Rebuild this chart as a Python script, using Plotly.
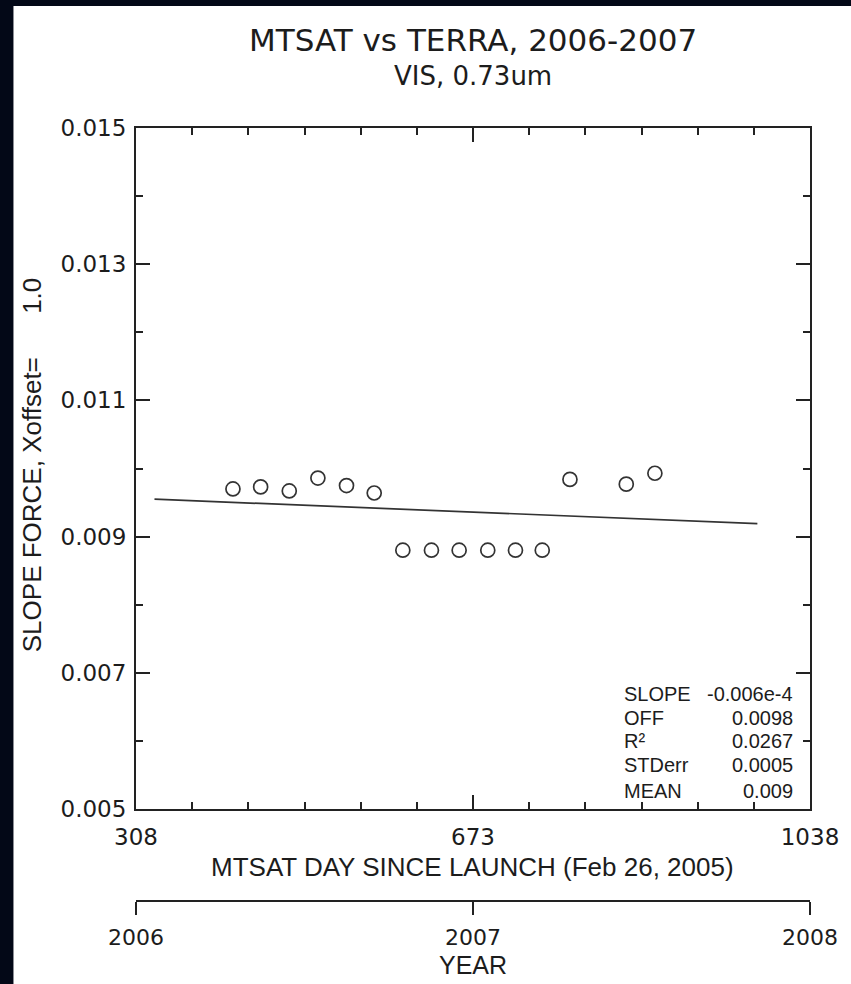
import plotly.graph_objects as go

# ---------------- data ----------------
days = [413, 443, 474, 505, 536, 566, 597, 628, 658, 689, 719, 748, 778, 839, 870]
slope_force = [0.00970, 0.00973, 0.00967, 0.00986, 0.00975, 0.00964,
               0.00880, 0.00880, 0.00880, 0.00880, 0.00880, 0.00880,
               0.00984, 0.00977, 0.00993]
fit_days = [328, 981]
fit_values = [0.00955, 0.00919]

x_ticks = [308, 673, 1038]
x_tick_labels = ["308", "673", "1038"]
y_ticks = [0.005, 0.007, 0.009, 0.011, 0.013, 0.015]
y_tick_labels = ["0.005", "0.007", "0.009", "0.011", "0.013", "0.015"]
year_ticks = [2006, 2007, 2008]
year_tick_labels = ["2006", "2007", "2008"]

stat_names = ["SLOPE", "OFF", "R\u00b2", "STDerr", "MEAN"]
stat_values = ["-0.006e-4", "0.0098", "0.0267", "0.0005", "0.009"]

title_text = "MTSAT vs TERRA, 2006-2007"
subtitle_text = "VIS, 0.73um"
x_title = "MTSAT DAY SINCE LAUNCH (Feb 26, 2005)"
y_title = "SLOPE FORCE, Xoffset=" + "\u00a0" * 6 + "1.0"
year_title = "YEAR"

# ---------------- layout geometry (pixels) ----------------
W, H = 851, 984
L, R, T, B = 136, 33, 128, 83
PW = W - L - R
PH = H - T - B
AX_Y = 809  # pixel row of main x axis


def px(x):
    return (x - L) / PW


def py(y):
    return (H - B - y) / PH


INK = "#1c1c1c"
SANS = "Liberation Sans, Arial, sans-serif"
WIDE = "DejaVu Sans, sans-serif"

fig = go.Figure()

fig.add_trace(go.Scatter(
    x=fit_days, y=fit_values, mode="lines",
    line=dict(color="#333333", width=1.7),
    showlegend=False, hoverinfo="skip"))

fig.add_trace(go.Scatter(
    x=days, y=slope_force, mode="markers",
    marker=dict(symbol="circle-open", size=14, color="#333333",
                line=dict(width=1.7)),
    showlegend=False))

# invisible trace to carry the year axis
fig.add_trace(go.Scatter(
    x=[year_ticks[0], year_ticks[-1]], y=[None, None], xaxis="x2", yaxis="y",
    mode="markers", showlegend=False, hoverinfo="skip"))

annotations = [
    dict(text=title_text, x=0.5, y=py(40), font=dict(family=WIDE, size=31, color=INK)),
    dict(text=subtitle_text, x=0.5, y=py(76), font=dict(family=WIDE, size=26, color=INK)),
    dict(text=x_title, x=px(476), y=py(867), font=dict(family=SANS, size=26, color=INK)),
    dict(text=y_title, x=px(31), y=py(465), textangle=-90,
         font=dict(family=SANS, size=26, color=INK)),
    dict(text=year_title, x=0.5, y=py(965), font=dict(family=SANS, size=25, color=INK)),
]
row_y = [694, 718, 741, 765, 791]
for name, val, ry in zip(stat_names, stat_values, row_y):
    annotations.append(dict(text=name, x=px(628), y=py(ry), xanchor="left",
                            font=dict(family=SANS, size=20, color=INK)))
    annotations.append(dict(text=val, x=px(803), y=py(ry), xanchor="right",
                            font=dict(family=SANS, size=20, color=INK)))
for a in annotations:
    a.setdefault("xanchor", "center")
    a.update(xref="paper", yref="paper", yanchor="middle", showarrow=False)

axis_common = dict(showgrid=False, zeroline=False, showline=True,
                   linecolor="#222222", linewidth=2, tickcolor="#222222",
                   tickwidth=1.5)

fig.update_layout(
    width=W, height=H,
    margin=dict(l=L, r=R, t=T, b=B, pad=0),
    paper_bgcolor="#030817",
    plot_bgcolor="white",
    showlegend=False,
    xaxis=dict(
        range=[308, 1038], tickmode="array", tickvals=x_ticks, ticktext=x_tick_labels,
        ticks="inside", ticklen=14, mirror="ticks",
        tickfont=dict(family=WIDE, size=23, color=INK), ticklabelstandoff=6,
        minor=dict(tickmode="linear", tick0=308, dtick=730 / 12, ticks="inside",
                   ticklen=7, tickwidth=1.5, tickcolor="#222222", showgrid=False),
        **axis_common),
    yaxis=dict(
        range=[0.005, 0.015], domain=[py(AX_Y), 1], tickmode="array",
        tickvals=y_ticks, ticktext=y_tick_labels,
        ticks="inside", ticklen=14, mirror="ticks",
        tickfont=dict(family=WIDE, size=23, color=INK), ticklabelstandoff=3,
        minor=dict(tickmode="linear", tick0=0.005, dtick=0.001, ticks="inside",
                   ticklen=7, tickwidth=1.5, tickcolor="#222222", showgrid=False),
        **axis_common),
    xaxis2=dict(
        overlaying="x", anchor="free", position=0, side="bottom",
        range=[2006, 2008], tickmode="array", tickvals=year_ticks,
        ticktext=year_tick_labels, ticks="outside", ticklen=13,
        tickfont=dict(family=WIDE, size=22, color=INK), ticklabelstandoff=4,
        **axis_common),
    annotations=annotations,
    shapes=[dict(type="rect", xref="paper", yref="paper",
                 x0=px(12), x1=px(W + 20), y0=py(H + 20), y1=py(6),
                 fillcolor="white", line=dict(width=0), layer="below")],
)

fig.write_html("out.html")
